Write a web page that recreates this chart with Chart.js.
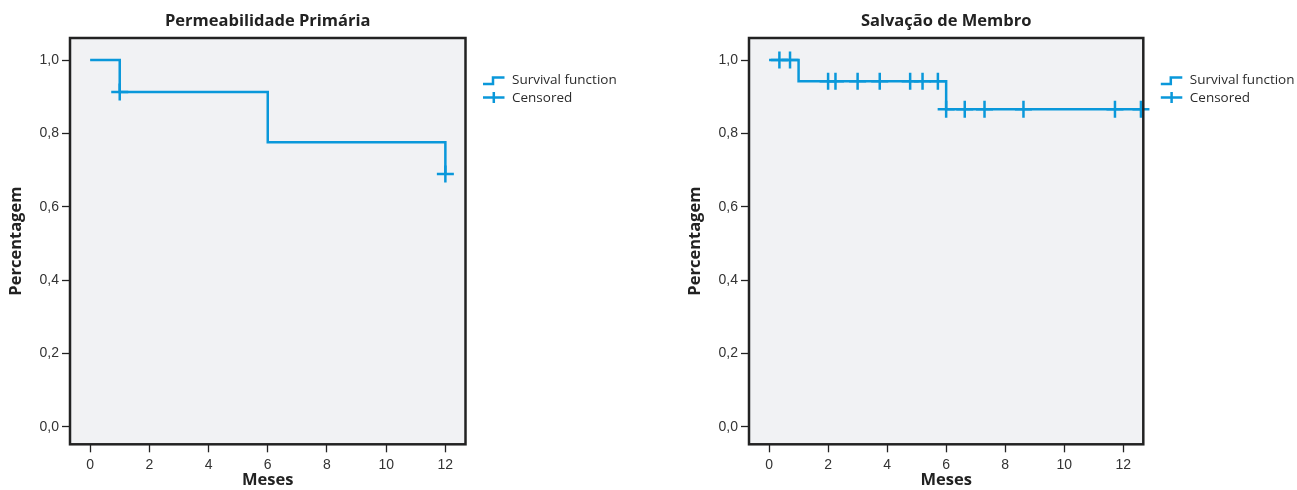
<!DOCTYPE html>
<html>
<head>
<meta charset="utf-8">
<script src="https://cdn.jsdelivr.net/npm/chart.js@4/dist/chart.umd.min.js"></script>
<style>
  html, body { margin: 0; padding: 0; background: #ffffff; }
  body { width: 1297px; height: 490px; position: relative; overflow: hidden; }
  .panel { position: absolute; top: 0; height: 490px; }
  #left { left: 0; width: 679px; }
  #right { left: 679px; width: 618px; }
</style>
</head>
<body>
<div class="panel" id="left"><canvas id="c1" width="679" height="490"></canvas></div>
<div class="panel" id="right"><canvas id="c2" width="618" height="490"></canvas></div>
<script>
// Kaplan-Meier curves (months, cumulative proportion)
const monthTicks = [0, 2, 4, 6, 8, 10, 12];
const yTicks = [0, 0.2, 0.4, 0.6, 0.8, 1.0];

// Permeabilidade Primária
const patencyTimes = [0, 1, 6, 12];
const patencySurvival = [1.0, 0.913, 0.776, 0.689];
const patencyCensorTimes = [1, 12];
const patencyCensorValues = [0.913, 0.689];

// Salvação de Membro
const limbTimes = [0, 1, 6, 12.6];
const limbSurvival = [1.0, 0.942, 0.866, 0.866];
const limbCensorTimes = [0.35, 0.71, 2.0, 2.25, 3.0, 3.75, 4.78, 5.2, 5.72, 6.0, 6.63, 7.3, 8.62, 11.72, 12.6];
const limbCensorValues = [1.0, 1.0, 0.942, 0.942, 0.942, 0.942, 0.942, 0.942, 0.942, 0.866, 0.866, 0.866, 0.866, 0.866, 0.866];

const BLUE = '#0a98da';
const INK = '#222222';
const PANEL_BG = '#f1f2f4';
const LABEL_FONT = { family: '"Open Sans", sans-serif', size: 16.5, weight: 'bold', lineHeight: 1.2 };
const TICK_FONT = { family: '"Liberation Sans", Arial, sans-serif', size: 14 };

function points(xs, ys) {
  return xs.map((x, i) => ({ x: x, y: ys[i] }));
}

// Plot background, frame and the legend box to the right of the plot
const framePlugin = {
  id: 'kmFrame',
  beforeDatasetsDraw(chart) {
    const { ctx, chartArea: a } = chart;
    ctx.save();
    ctx.fillStyle = PANEL_BG;
    ctx.fillRect(a.left, a.top, a.right - a.left, a.bottom - a.top);
    ctx.restore();
  },
  afterDraw(chart) {
    const { ctx, chartArea: a } = chart;
    ctx.save();
    ctx.strokeStyle = INK;
    ctx.lineWidth = 2.5;
    ctx.strokeRect(a.left, a.top, a.right - a.left, a.bottom - a.top);

    // legend
    const x0 = a.right + 17.5;
    ctx.strokeStyle = BLUE;
    ctx.lineWidth = 2.5;
    ctx.lineCap = 'butt';
    ctx.beginPath();
    ctx.moveTo(x0, 84);
    ctx.lineTo(x0 + 10, 84);
    ctx.lineTo(x0 + 10, 77.5);
    ctx.lineTo(x0 + 21.5, 77.5);
    ctx.stroke();
    ctx.beginPath();
    ctx.moveTo(x0, 97.5);
    ctx.lineTo(x0 + 21.5, 97.5);
    ctx.moveTo(x0 + 10.8, 92);
    ctx.lineTo(x0 + 10.8, 103);
    ctx.stroke();

    ctx.fillStyle = '#2b2b2b';
    ctx.font = '13.5px "Open Sans", sans-serif';
    ctx.textBaseline = 'middle';
    ctx.textAlign = 'left';
    ctx.fillText('Survival function', x0 + 29, 80);
    ctx.fillText('Censored', x0 + 29, 98);
    ctx.restore();
  }
};

function makeChart(id, title, times, surv, cTimes, cVals, rightPad) {
  return new Chart(document.getElementById(id), {
    type: 'scatter',
    data: {
      datasets: [
        {
          label: 'Survival function',
          data: points(times, surv),
          showLine: true,
          stepped: true,
          borderColor: BLUE,
          borderWidth: 2.5,
          pointRadius: 0,
          clip: false
        },
        {
          label: 'Censored',
          data: points(cTimes, cVals),
          showLine: false,
          pointStyle: 'cross',
          pointRadius: 8.5,
          pointBorderWidth: 2.5,
          pointBorderColor: BLUE,
          pointBackgroundColor: BLUE,
          clip: false
        }
      ]
    },
    options: {
      responsive: false,
      animation: false,
      events: [],
      layout: { padding: { left: 0, top: 0, right: rightPad, bottom: 0 } },
      plugins: {
        legend: { display: false },
        tooltip: { enabled: false },
        title: {
          display: true,
          text: title,
          fullSize: false,
          color: INK,
          font: LABEL_FONT,
          padding: { top: 11, bottom: 7.2 }
        }
      },
      scales: {
        x: {
          type: 'linear',
          min: -0.68,
          max: 12.68,
          afterFit(scale) { scale.height = 45.7; },
          afterBuildTicks(scale) { scale.ticks = monthTicks.map(v => ({ value: v })); },
          border: { display: false },
          grid: { drawOnChartArea: false, drawTicks: true, tickLength: 8, tickColor: INK, tickWidth: 1.3 },
          ticks: {
            color: '#333',
            padding: 4,
            font: TICK_FONT,
            callback: v => String(v)
          },
          title: {
            display: true,
            text: 'Meses',
            color: INK,
            font: LABEL_FONT,
            padding: { top: 0, bottom: 0 }
          }
        },
        y: {
          type: 'linear',
          min: -0.048,
          max: 1.06,
          afterFit(scale) { scale.width = 70; },
          afterBuildTicks(scale) { scale.ticks = yTicks.map(v => ({ value: v })); },
          border: { display: false },
          grid: { drawOnChartArea: false, drawTicks: true, tickLength: 8, tickColor: INK, tickWidth: 1.3 },
          ticks: {
            color: '#333',
            padding: 3,
            font: TICK_FONT,
            callback: v => v.toFixed(1).replace('.', ',')
          },
          title: {
            display: true,
            text: 'Percentagem',
            color: INK,
            font: LABEL_FONT,
            padding: { top: 6, bottom: 0 }
          }
        }
      }
    },
    plugins: [framePlugin]
  });
}

makeChart('c1', 'Permeabilidade Primária', patencyTimes, patencySurvival,
          patencyCensorTimes, patencyCensorValues, 679 - 465.5);
makeChart('c2', 'Salvação de Membro', limbTimes, limbSurvival,
          limbCensorTimes, limbCensorValues, 618 - (1143.3 - 679));
</script>
</body>
</html>
